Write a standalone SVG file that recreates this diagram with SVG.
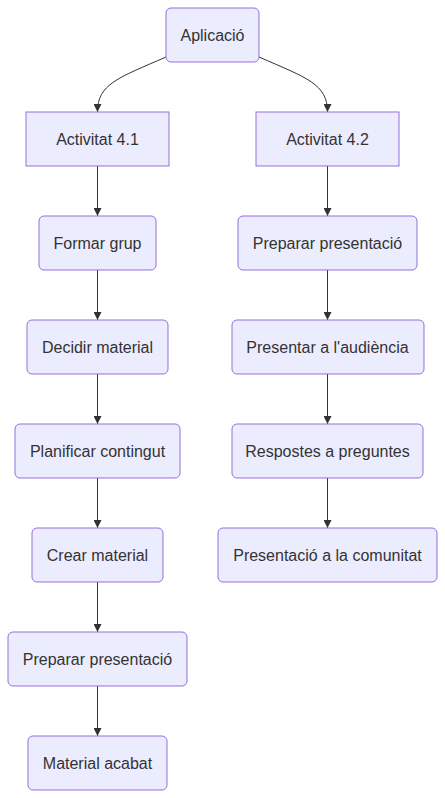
<svg xmlns="http://www.w3.org/2000/svg" width="445" height="798" viewBox="0 0 445 798">
<style>
.n rect{fill:#ECECFF;stroke:#9370DB;stroke-width:1px}
.n text{font-family:"Liberation Sans",Arial,sans-serif;font-size:16px;fill:#333;text-anchor:middle;dominant-baseline:central}
.e path{fill:none;stroke:#333;stroke-width:1px;marker-end:url(#arr)}
</style>
<defs>
<marker id="arr" viewBox="0 0 10 10" refX="10" refY="5" markerWidth="8" markerHeight="8" markerUnits="userSpaceOnUse" orient="auto">
<path d="M0,0 L10,5 L0,10 z" fill="#333"/>
</marker>
</defs>
<rect width="445" height="798" fill="#fff"/>
<g id="edges" class="e">
<path d="M166,57 C118,78 97.5,84 97.5,112"/>
<path d="M259,57 C307,78 327.5,84 327.5,112"/>
<path d="M97.5,166 L97.5,216"/>
<path d="M97.5,270 L97.5,320"/>
<path d="M97.5,374 L97.5,424"/>
<path d="M97.5,478 L97.5,528"/>
<path d="M97.5,582 L97.5,632"/>
<path d="M97.5,686 L97.5,736"/>
<path d="M327.5,166 L327.5,216"/>
<path d="M327.5,270 L327.5,320"/>
<path d="M327.5,374 L327.5,424"/>
<path d="M327.5,478 L327.5,528"/>
</g>
<g id="aplicacio" class="n"><rect x="166" y="8" width="93" height="54" rx="5"/><text x="212.5" y="35">Aplicació</text></g>
<g id="act41" class="n"><rect x="26" y="112" width="143" height="54"/><text x="97.5" y="139">Activitat 4.1</text></g>
<g id="act42" class="n"><rect x="256" y="112" width="143" height="54"/><text x="327.5" y="139">Activitat 4.2</text></g>
<g id="formar" class="n"><rect x="39" y="216" width="117" height="54" rx="5"/><text x="97.5" y="243">Formar grup</text></g>
<g id="decidir" class="n"><rect x="27" y="320" width="141" height="54" rx="5"/><text x="97.5" y="347">Decidir material</text></g>
<g id="planificar" class="n"><rect x="15" y="424" width="165" height="54" rx="5"/><text x="97.5" y="451">Planificar contingut</text></g>
<g id="crear" class="n"><rect x="32" y="528" width="131" height="54" rx="5"/><text x="97.5" y="555">Crear material</text></g>
<g id="preparar1" class="n"><rect x="8" y="632" width="179" height="54" rx="5"/><text x="97.5" y="659">Preparar presentació</text></g>
<g id="acabat" class="n"><rect x="28" y="736" width="139" height="54" rx="5"/><text x="97.5" y="763">Material acabat</text></g>
<g id="preparar2" class="n"><rect x="238" y="216" width="179" height="54" rx="5"/><text x="327.5" y="243">Preparar presentació</text></g>
<g id="presentar" class="n"><rect x="232" y="320" width="192" height="54" rx="5"/><text x="327.5" y="347">Presentar a l'audiència</text></g>
<g id="respostes" class="n"><rect x="232" y="424" width="191" height="54" rx="5"/><text x="327.5" y="451">Respostes a preguntes</text></g>
<g id="comunitat" class="n"><rect x="218" y="528" width="219" height="54" rx="5"/><text x="327.5" y="555">Presentació a la comunitat</text></g>
</svg>
